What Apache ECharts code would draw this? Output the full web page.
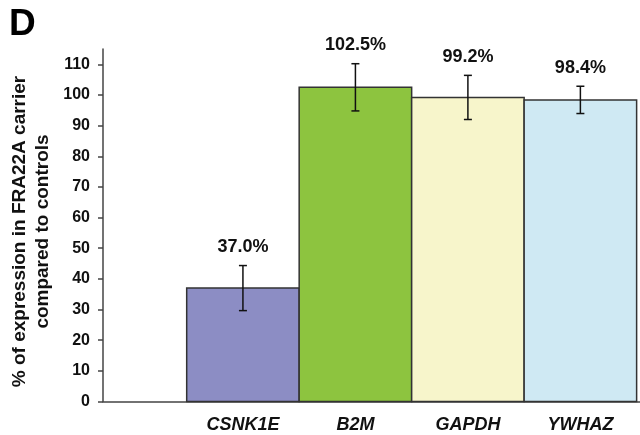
<!DOCTYPE html>
<html>
<head>
<meta charset="utf-8">
<script src="https://cdn.jsdelivr.net/npm/echarts@6/dist/echarts.min.js"></script>
<style>
  html, body { margin: 0; padding: 0; background: #fff; }
  #chart { width: 640px; height: 435px; }
</style>
</head>
<body>
<div id="chart"></div>
<script>
// Genes on the x axis, in plotting order (positions 1..4)
const genes = ['CSNK1E', 'B2M', 'GAPDH', 'YWHAZ'];
// Mean expression in the carrier, % of controls
const expression = [37.0, 102.5, 99.2, 98.4];
// Error bar half-widths (± around the mean)
const errors = [7.35, 7.7, 7.2, 4.45];
// Fill colour of each gene's bar
const barColors = ['#8c8dc4', '#8dc43f', '#f7f5cb', '#cfe9f3'];
// Y axis tick values
const yTicks = [0, 10, 20, 30, 40, 50, 60, 70, 80, 90, 100, 110];

const FONT = '"Liberation Sans", Arial, sans-serif';
const positions = genes.map((g, i) => i + 1);

const barData = genes.map((g, i) => [positions[i], expression[i], i]);
const errData = genes.map((g, i) => [positions[i], expression[i] - errors[i], expression[i] + errors[i], expression[i]]);

const chart = echarts.init(document.getElementById('chart'), null, { renderer: 'canvas' });

chart.setOption({
  animation: false,
  backgroundColor: '#ffffff',
  grid: { left: 103, right: 0, top: 49, bottom: 33.5, containLabel: false },
  xAxis: {
    type: 'value',
    min: -0.244,
    max: 4.53,
    splitLine: { show: false },
    axisLine: { show: true, onZero: false, lineStyle: { color: '#444', width: 1.5 } },
    axisTick: { show: false },
    axisLabel: {
      customValues: positions,
      formatter: v => genes[Math.round(v) - 1] || '',
      margin: 15,
      fontFamily: FONT,
      fontSize: 18,
      fontWeight: 'bold',
      fontStyle: 'italic',
      color: '#111'
    }
  },
  yAxis: {
    type: 'value',
    min: 0,
    max: 115,
    interval: 10,
    splitLine: { show: false },
    axisLine: { show: true, onZero: false, lineStyle: { color: '#444', width: 1.5 } },
    axisTick: { show: true, customValues: yTicks, length: 5, lineStyle: { color: '#444', width: 1.5 } },
    axisLabel: {
      customValues: yTicks,
      margin: 13,
      fontFamily: FONT,
      fontSize: 16,
      fontWeight: 'bold',
      color: '#111'
    }
  },
  graphic: [
    {
      type: 'text',
      x: 9, y: 25,
      style: { text: 'D', font: 'bold 37px ' + FONT, fill: '#000', align: 'left', verticalAlign: 'middle' }
    },
    {
      type: 'text',
      x: 31.5, y: 231.5,
      rotation: Math.PI / 2,
      style: {
        text: '% of expression in FRA22A carrier\ncompared to controls',
        font: 'bold 19px ' + FONT,
        lineHeight: 23,
        fill: '#111',
        align: 'center',
        verticalAlign: 'middle'
      }
    }
  ],
  series: [
    {
      type: 'custom',
      data: barData,
      renderItem: (params, api) => {
        const x = api.value(0), v = api.value(1), idx = api.value(2);
        const p0 = api.coord([x - 0.5, v]);
        const p1 = api.coord([x + 0.5, 0]);
        return {
          type: 'rect',
          shape: { x: p0[0], y: p0[1], width: p1[0] - p0[0], height: p1[1] - p0[1] },
          style: { fill: barColors[idx], stroke: '#333', lineWidth: 1.5 }
        };
      },
      z: 2
    },
    {
      type: 'custom',
      data: errData,
      renderItem: (params, api) => {
        const x = api.value(0), lo = api.value(1), hi = api.value(2), mean = api.value(3);
        const pLo = api.coord([x, lo]);
        const pHi = api.coord([x, hi]);
        const cap = 4;
        const stroke = { stroke: '#111', lineWidth: 1.5 };
        return {
          type: 'group',
          children: [
            { type: 'line', shape: { x1: pLo[0], y1: pLo[1], x2: pHi[0], y2: pHi[1] }, style: stroke },
            { type: 'line', shape: { x1: pHi[0] - cap, y1: pHi[1], x2: pHi[0] + cap, y2: pHi[1] }, style: stroke },
            { type: 'line', shape: { x1: pLo[0] - cap, y1: pLo[1], x2: pLo[0] + cap, y2: pLo[1] }, style: stroke },
            {
              type: 'text',
              x: pHi[0], y: pHi[1] - 18.5,
              style: {
                text: mean.toFixed(1) + '%',
                font: 'bold 18px ' + FONT,
                fill: '#111',
                align: 'center',
                verticalAlign: 'middle'
              }
            }
          ]
        };
      },
      z: 3
    }
  ]
});
</script>
</body>
</html>
